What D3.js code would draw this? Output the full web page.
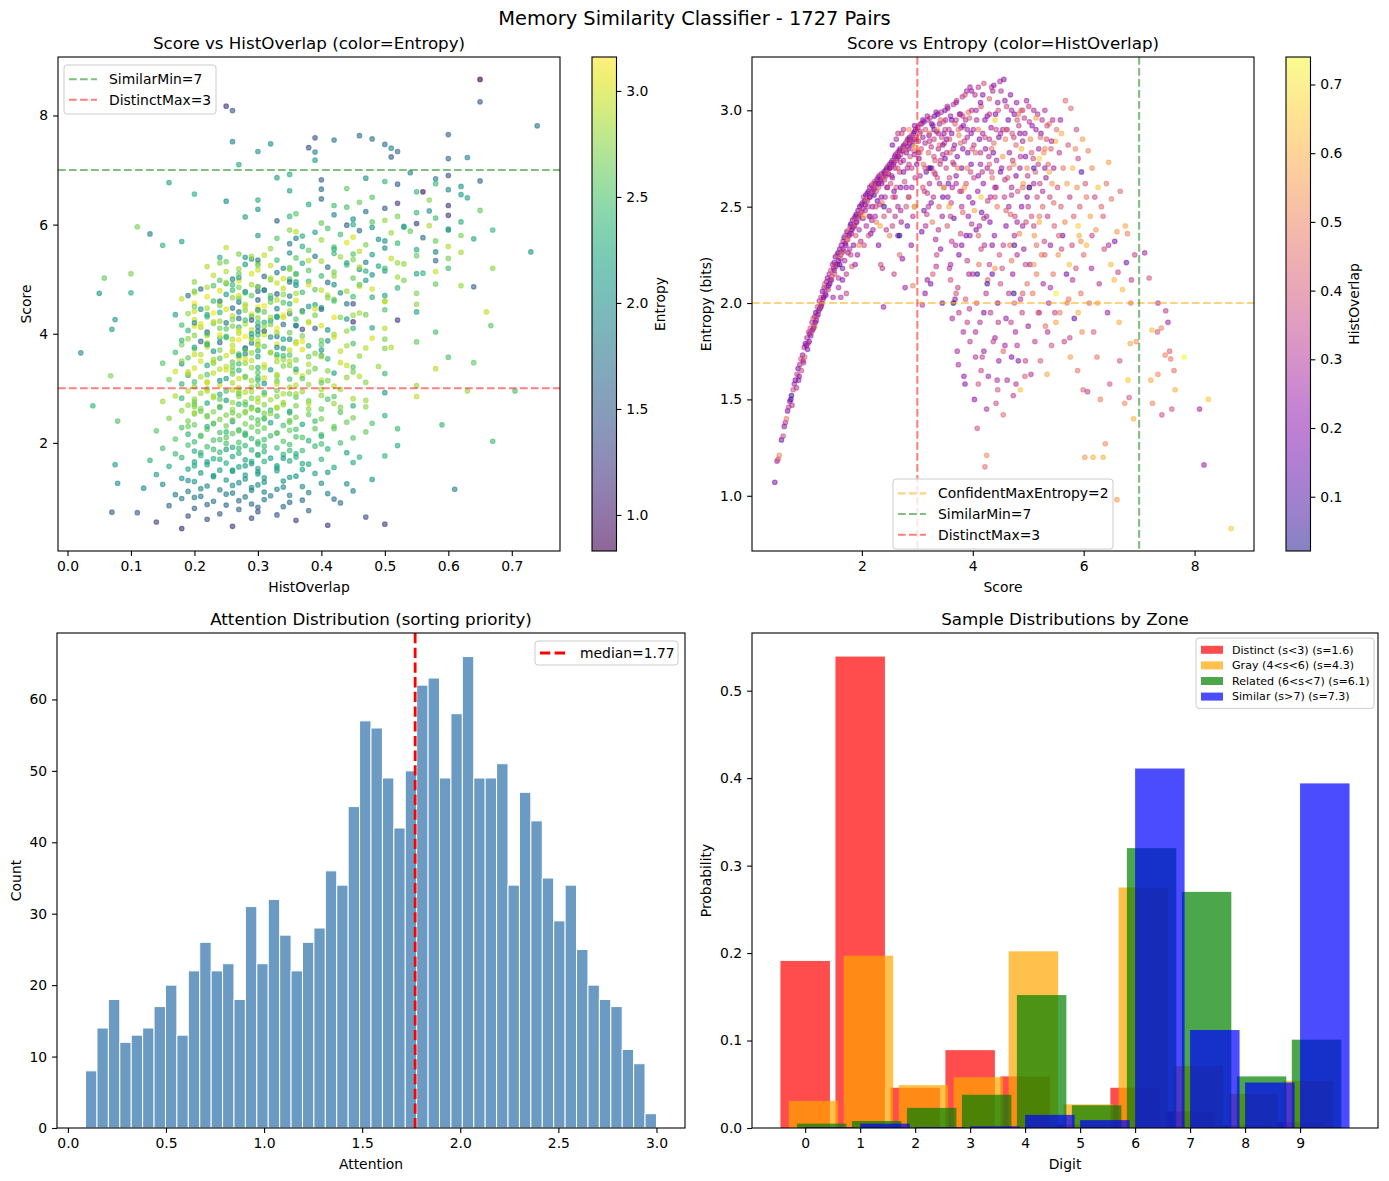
<!DOCTYPE html>
<html>
<head>
<meta charset="utf-8">
<script src="https://cdn.jsdelivr.net/npm/d3@7"></script>
<style>
body { margin: 0; background: #fff; }
text { font-family: "DejaVu Sans", sans-serif; fill: #000; }
</style>
</head>
<body>
<div id="chart"></div>
<script>
// --> DATA
// each pair: [score, histOverlap, entropy]
var pairs = [
  [0.43,.18,1.07],[0.47,.26,1.18],[0.49,.41,1.19],[0.51,.5,1.21],[0.55,.14,1.29],[0.58,.36,1.31],[0.6,.22,1.36],[0.62,.29,1.38],
  [0.64,.47,1.4],[0.66,.19,1.44],[0.68,.33,1.46],[0.7,.24,1.49],[0.72,.11,1.5],[0.73,.07,1.52],[0.74,.3,1.47],[0.76,.38,1.55],
  [0.78,.27,1.58],[0.8,.2,1.6],[0.83,.34,1.63],[0.85,.16,1.66],[0.86,.25,1.6],[0.88,.29,1.68],[0.9,.43,1.71],[0.93,.23,1.73],
  [0.95,.37,1.69],[0.96,.31,1.77],[0.98,.18,1.79],
  [1.01,.28,1.82],[1.02,.21,1.76],[1.04,.35,1.85],[1.05,.17,1.8],[1.07,.41,1.87],[1.08,.26,1.83],[1.1,.31,1.9],[1.11,.19,1.86],
  [1.12,.45,1.92],[1.14,.24,1.88],[1.15,.33,1.93],[1.17,.12,1.95],[1.18,.29,1.91],[1.2,.37,1.98],[1.21,.22,1.94],[1.23,.3,2.01],
  [1.24,.15,1.97],[1.26,.4,2.03],[1.27,.27,1.99],[1.29,.2,2.06],[1.3,.34,2.02],[1.32,.25,2.08],[1.33,.48,2.1],[1.35,.18,2.04],
  [1.36,.31,2.11],[1.38,.23,2.13],[1.39,.36,2.07],[1.41,.28,2.15],[1.42,.14,2.1],[1.44,.39,2.17],[1.45,.21,2.12],[1.47,.3,2.2],
  [1.48,.26,2.03],[1.49,.33,2.18],
  [1.5,.24,2.21],[1.51,.37,2.15],[1.52,.19,2.24],[1.53,.3,2.19],[1.55,.42,2.25],[1.56,.27,2.2],[1.57,.16,2.26],[1.58,.33,2.13],
  [1.6,.22,2.28],[1.61,.38,2.23],[1.62,.29,2.03],[1.63,.25,2.3],[1.64,.45,2.26],[1.65,.2,2.18],[1.66,.31,2.32],[1.67,.35,2.27],
  [1.68,.13,2.34],[1.69,.28,2.22],[1.7,.4,2.35],[1.71,.23,2.3],[1.72,.32,2.15],[1.73,.18,2.37],[1.74,.36,2.33],[1.75,.26,2.26],
  [1.76,.5,2.38],[1.77,.21,2.35],[1.78,.3,2.28],[1.79,.34,2.4],[1.8,.17,2.41],[1.81,.27,2.36],[1.82,.44,2.19],[1.83,.24,2.43],
  [1.84,.31,2.39],[1.85,.2,2.3],[1.86,.37,2.44],[1.87,.29,2.4],[1.88,.23,2.45],[1.89,.41,2.35],[1.9,.15,2.46],[1.91,.33,2.42],
  [1.92,.26,2.25],[1.93,.22,2.48],[1.94,.39,2.44],[1.95,.28,2.38],[1.96,.19,2.5],[1.97,.35,2.46],[1.98,.3,2.32],[1.99,.25,2.51],
  [2.0,.43,2.47],
  [2.01,.27,2.52],[2.02,.2,2.44],[2.03,.34,2.55],[2.04,.38,2.3],[2.05,.23,2.53],[2.06,.31,2.48],[2.07,.17,2.56],[2.08,.29,2.4],
  [2.09,.45,2.54],[2.1,.25,2.57],[2.11,.36,2.5],[2.12,.21,2.58],[2.13,.32,2.45],[2.14,.28,2.6],[2.15,.4,2.55],[2.16,.19,2.36],
  [2.17,.26,2.61],[2.18,.33,2.57],[2.19,.24,2.5],[2.2,.47,2.62],[2.21,.3,2.6],[2.22,.14,2.56],[2.23,.35,2.63],[2.24,.27,2.45],
  [2.25,.22,2.62],[2.26,.39,2.58],[2.27,.31,2.64],[2.28,.18,2.53],[2.29,.29,2.65],[2.3,.42,2.6],[2.31,.25,2.66],[2.32,.34,2.51],
  [2.33,.2,2.64],[2.34,.37,2.2],[2.35,.28,2.67],[2.36,.23,2.62],[2.37,.32,2.18],[2.38,.44,2.66],[2.39,.26,1.98],[2.4,.19,2.68],
  [2.41,.35,2.64],[2.42,.3,2.55],[2.43,.24,2.69],[2.44,.4,2.66],[2.45,.16,2.7],[2.46,.29,2.6],[2.47,.36,2.71],[2.48,.22,2.67],
  [2.49,.33,2.48],[2.5,.27,2.72],[2.26,.52,2.42],[2.12,.4,2.35],[2.44,.31,2.38],[2.3,.22,2.3],[2.18,.28,2.43],[2.36,.48,2.52],
  [2.51,.25,2.7],[2.52,.38,2.62],[2.53,.2,2.73],[2.54,.31,2.66],[2.55,.28,2.74],[2.56,.43,2.55],[2.57,.23,2.72],[2.58,.35,2.15],
  [2.59,.18,2.76],[2.6,.3,2.7],[2.61,.26,2.77],[2.62,.4,2.6],[2.63,.21,2.75],[2.64,.33,2.78],[2.65,.29,2.5],[2.66,.47,2.76],
  [2.67,.24,2.79],[2.68,.36,2.68],[2.69,.19,2.8],[2.7,.31,2.73],[2.71,.27,2.42],[2.72,.42,2.79],[2.73,.22,2.23],[2.74,.34,2.81],
  [2.75,.28,2.74],[2.76,.15,2.82],[2.77,.38,2.63],[2.78,.25,2.08],[2.79,.32,2.83],[2.8,.2,2.78],[2.81,.45,2.84],[2.82,.29,2.7],
  [2.83,.23,2.85],[2.84,.36,2.55],[2.85,.27,2.8],[2.86,.17,2.86],[2.87,.4,2.76],[2.88,.31,2.85],[2.89,.24,2.3],[2.9,.34,2.87],
  [2.91,.21,2.82],[2.92,.5,2.09],[2.93,.28,2.88],[2.94,.37,2.79],[2.95,.19,2.89],[2.96,.33,2.65],[2.97,.26,2.9],[2.98,.43,2.84],
  [2.99,.22,2.72],[2.6,.32,2.45],[2.7,.2,2.6],[2.8,.41,2.5],[2.9,.27,2.6],[2.55,.35,2.4],[2.65,.24,2.35],[2.75,.3,2.9],
  [2.85,.55,2.9],[2.95,.25,2.5],[2.62,.29,2.85],[2.72,.38,2.88],[2.82,.18,2.4],[2.92,.31,2.45],[2.68,.45,2.25],[2.58,.21,2.58],
  [3.01,.27,2.91],[3.02,.35,2.84],[3.03,.2,2.75],[3.04,.42,2.88],[3.05,.3,2.66],[3.06,.24,2.93],[3.07,.38,2.8],[3.08,.18,2.37],
  [3.09,.31,1.99],[3.1,.26,2.86],[3.11,.47,2.72],[3.12,.22,2.94],[3.13,.33,2.58],[3.14,.29,2.83],[3.15,.4,2.9],[3.16,.16,2.68],
  [3.17,.35,2.46],[3.18,.25,2.12],[3.19,.31,2.95],[3.2,.44,2.78],[3.21,.21,2.87],[3.22,.28,2.62],[3.23,.37,2.96],[3.24,.19,2.1],
  [3.25,.33,2.81],[3.26,.26,2.7],[3.27,.5,2.42],[3.28,.23,2.92],[3.29,.3,2.55],[3.3,.36,2.85],[3.31,.17,2.97],[3.32,.41,2.74],
  [3.33,.27,2.33],[3.34,.32,2.19],[3.35,.24,2.89],[3.36,.39,2.65],[3.37,.2,2.98],[3.38,.29,2.8],[3.39,.45,2.5],[3.4,.25,2.93],
  [3.41,.34,2.72],[3.42,.22,2.28],[3.43,.31,2.99],[3.44,.38,2.86],[3.45,.18,2.0],[3.46,.28,2.77],[3.47,.43,2.94],[3.48,.26,2.6],
  [3.49,.33,2.83],[3.5,.21,3.0],[3.05,.55,2.78],[3.15,.3,2.4],[3.25,.22,2.52],[3.35,.36,2.25],[3.45,.27,2.45],[3.1,.4,2.6],
  [3.2,.28,2.7],[3.3,.19,2.9],[3.4,.49,2.82],[3.14,.24,2.05],[3.28,.42,2.15],[3.38,.3,2.38],[3.48,.23,2.88],[3.08,.33,2.93],
  [3.18,.37,2.57],[3.32,.26,2.67],[3.42,.35,2.74],[3.22,.46,2.88],[3.12,.2,2.48],[3.36,.58,2.9],[3.46,.15,2.55],
  [3.51,.29,2.95],[3.52,.36,2.7],[3.53,.23,2.85],[3.54,.41,2.4],[3.55,.27,3.01],[3.56,.19,2.62],[3.57,.33,2.9],[3.58,.3,2.18],
  [3.59,.46,2.78],[3.6,.25,2.97],[3.61,.35,2.52],[3.62,.21,2.88],[3.63,.28,1.92],[3.64,.39,2.73],[3.65,.32,3.03],[3.66,.17,2.44],
  [3.67,.26,2.82],[3.68,.43,2.93],[3.69,.3,2.3],[3.7,.24,2.66],[3.71,.37,3.05],[3.72,.2,2.76],[3.73,.34,2.08],[3.74,.28,1.68],
  [3.75,.51,2.87],[3.76,.22,2.98],[3.77,.31,2.58],[3.78,.38,2.36],[3.79,.26,2.91],[3.8,.18,2.7],[3.81,.33,3.07],[3.82,.45,2.47],
  [3.83,.29,1.85],[3.84,.24,1.62],[3.85,.36,2.84],[3.86,.21,1.58],[3.87,.3,2.95],[3.88,.4,2.62],[3.89,.27,3.1],[3.9,.34,2.22],
  [3.91,.19,2.78],[3.92,.48,2.99],[3.93,.25,2.55],[3.94,.32,1.97],[3.95,.28,3.12],[3.96,.37,2.68],[3.97,.22,2.88],[3.98,.3,2.41],
  [3.99,.42,2.8],[3.55,.24,2.55],[3.6,.4,2.12],[3.65,.29,2.8],[3.7,.35,2.95],[3.75,.2,2.25],[3.8,.3,2.5],[3.85,.55,2.6],
  [3.9,.26,2.9],[3.95,.33,1.8],[3.58,.38,2.65],[3.68,.23,2.02],[3.78,.44,2.83],[3.88,.18,2.35],[3.98,.31,3.0],[3.53,.34,2.78],
  [3.63,.27,2.6],[3.73,.5,2.7],[3.83,.22,2.92],[3.93,.29,2.15],[3.62,.33,2.32],[3.72,.28,1.75],[3.82,.36,2.97],[3.92,.24,2.45],
  [3.57,.6,2.5],[3.87,.41,2.02],[3.97,.2,2.72],
  [4.01,.27,2.9],[4.02,.35,2.65],[4.03,.22,1.5],[4.04,.31,3.08],[4.05,.44,2.78],[4.06,.19,2.38],[4.07,.29,2.95],[4.08,.37,1.35],
  [4.09,.25,2.58],[4.1,.33,3.12],[4.11,.48,2.2],[4.12,.21,2.85],[4.13,.3,1.9],[4.14,.26,2.72],[4.15,.4,3.02],[4.16,.18,2.47],
  [4.17,.34,1.72],[4.18,.28,2.88],[4.19,.23,2.62],[4.2,.38,3.14],[4.21,.31,2.3],[4.22,.45,1.15],[4.23,.24,2.8],[4.24,.32,2.05],
  [4.25,.52,1.21],[4.26,.2,2.97],[4.27,.36,2.53],[4.28,.27,1.62],[4.29,.3,2.76],[4.3,.42,3.06],[4.31,.22,2.42],[4.32,.33,1.95],
  [4.33,.26,2.91],[4.34,.39,2.68],[4.35,.17,2.15],[4.36,.29,3.1],[4.37,.35,1.8],[4.38,.46,2.83],[4.39,.24,2.35],[4.4,.31,2.6],
  [4.41,.2,2.98],[4.42,.37,1.48],[4.43,.28,2.74],[4.44,.5,2.5],[4.45,.25,3.04],[4.46,.33,1.9],[4.47,.22,2.86],[4.48,.4,2.25],
  [4.49,.3,3.15],[4.03,.58,2.48],[4.07,.41,2.0],[4.12,.27,2.4],[4.17,.32,2.68],[4.22,.23,2.95],[4.27,.44,2.12],[4.32,.29,2.55],
  [4.37,.19,2.78],[4.42,.35,2.9],[4.47,.26,1.7],[4.05,.3,1.85],[4.15,.36,2.28],[4.25,.28,2.45],[4.35,.47,2.65],[4.45,.21,2.0],
  [4.1,.39,1.58],[4.2,.25,1.75],[4.3,.32,2.85],[4.4,.55,2.18],[4.14,.2,3.04],[4.34,.34,3.12],[4.44,.3,1.6],
  [4.51,.31,3.1],[4.52,.24,2.7],[4.53,.39,2.18],[4.54,.28,2.9],[4.55,.45,1.42],[4.56,.2,3.16],[4.57,.34,2.55],[4.58,.27,1.78],
  [4.59,.5,2.85],[4.6,.23,2.4],[4.61,.36,3.02],[4.62,.3,1.6],[4.63,.42,2.65],[4.64,.18,2.95],[4.65,.32,2.05],[4.66,.26,2.78],
  [4.67,.48,2.3],[4.68,.22,3.08],[4.69,.35,1.9],[4.7,.29,2.6],[4.71,.41,2.88],[4.72,.25,2.15],[4.73,.33,1.52],[4.74,.55,2.72],
  [4.75,.2,2.98],[4.76,.37,2.45],[4.77,.28,1.85],[4.78,.44,2.82],[4.79,.24,3.04],[4.8,.31,2.25],[4.81,.39,2.58],[4.82,.21,1.7],
  [4.83,.34,2.92],[4.84,.52,2.36],[4.85,.27,2.7],[4.86,.3,2.02],[4.87,.46,3.0],[4.88,.23,2.5],[4.89,.36,1.95],[4.9,.29,2.84],
  [4.91,.58,2.62],[4.92,.25,2.28],[4.93,.33,2.96],[4.94,.41,1.62],[4.95,.2,2.76],[4.96,.38,2.42],[4.97,.27,3.05],[4.98,.47,2.1],
  [4.99,.32,2.66],[4.55,.35,2.3],[4.65,.27,2.5],[4.75,.43,2.0],[4.85,.22,2.88],[4.95,.36,2.2],[4.6,.5,2.9],[4.7,.19,1.72],
  [4.8,.4,2.95],[4.9,.26,2.4],[4.58,.32,2.64],[4.68,.45,2.46],[4.78,.3,1.58],[4.88,.62,2.8],[4.98,.24,2.55],[4.72,.34,2.74],
  [5.01,.34,3.02],[5.02,.45,2.6],[5.03,.27,2.2],[5.04,.52,2.85],[5.05,.31,1.63],[5.06,.4,2.45],[5.07,.23,2.92],[5.08,.48,2.05],
  [5.09,.36,2.75],[5.1,.29,3.0],[5.11,.56,2.35],[5.12,.33,1.8],[5.13,.42,2.68],[5.14,.25,2.9],[5.15,.5,2.15],[5.16,.38,2.55],
  [5.17,.3,2.98],[5.18,.46,1.95],[5.19,.27,2.8],[5.2,.6,2.42],[5.21,.35,2.62],[5.22,.41,1.7],[5.23,.22,2.88],[5.24,.49,2.25],
  [5.25,.32,2.95],[5.26,.44,2.5],[5.27,.28,2.1],[5.28,.53,2.78],[5.29,.37,2.32],[5.3,.3,3.0],[5.31,.47,1.88],[5.32,.25,2.65],
  [5.33,.4,2.85],[5.34,.58,1.63],[5.35,.33,2.45],[5.36,.45,2.72],[5.37,.29,2.0],[5.38,.51,2.93],[5.39,.36,2.55],[5.4,.24,2.3],
  [5.41,.43,2.8],[5.42,.39,1.78],[5.43,.55,2.62],[5.44,.31,2.95],[5.45,.48,2.15],[5.46,.27,2.7],[5.47,.42,2.4],[5.48,.35,1.95],
  [5.49,.62,2.84],
  [5.51,.46,2.9],[5.53,.38,2.6],[5.54,.55,2.25],[5.56,.32,2.78],[5.57,.5,1.95],[5.59,.42,2.5],[5.6,.6,2.88],[5.62,.15,2.35],
  [5.63,.47,2.7],[5.65,.35,1.8],[5.66,.52,2.42],[5.67,.44,3.05],[5.69,.18,2.15],[5.7,.58,2.62],[5.72,.4,2.82],[5.73,.49,2.02],
  [5.75,.33,2.55],[5.76,.56,1.72],[5.77,.45,3.01],[5.79,.37,2.3],[5.8,.62,2.7],[5.82,.43,2.45],[5.83,.13,1.92],[5.85,.51,2.8],
  [5.86,.39,2.18],[5.88,.54,2.6],[5.89,.46,1.65],[5.9,.35,2.75],[5.92,.6,2.35],[5.93,.41,2.5],[5.95,.48,2.05],[5.96,.11,2.68],
  [5.98,.57,2.85],[5.99,.44,1.55],[5.58,.25,2.95],[5.74,.64,2.2],[5.87,.36,2.9],[5.97,.53,1.85],
  [6.02,.55,1.2],[6.03,.4,2.62],[6.05,.62,2.3],[6.07,.33,1.54],[6.08,.5,2.79],[6.1,.45,2.0],[6.12,.58,2.45],[6.14,.28,2.18],
  [6.15,.52,2.7],[6.17,.6,1.2],[6.18,.42,1.85],[6.2,.36,2.55],[6.22,.55,2.38],[6.24,.47,1.72],[6.26,.65,2.6],[6.28,.3,2.1],
  [6.3,.5,1.5],[6.32,.44,2.5],[6.35,.6,1.2],[6.37,.38,2.28],[6.39,.52,1.27],[6.41,.46,2.62],[6.43,.25,1.95],[6.45,.57,2.73],
  [6.47,.4,1.58],[6.49,.63,2.2],
  [6.5,.48,2.54],[6.56,.2,2.32],[6.6,.55,2.37],[6.62,.35,2.16],[6.64,.6,1.9],[6.66,.44,2.58],[6.7,.62,2.07],[6.74,.52,1.48],
  [6.77,.16,2.21],[6.79,.5,2.36],[6.8,.65,1.6],[6.82,.4,1.51],[6.84,.58,1.79],[6.86,.33,2.12],[6.9,.6,1.4],[6.6,.56,0.98],
  [6.95,.54,1.8],
  [7.1,.27,2.26],[7.18,.39,2.13],[7.21,.6,1.6],[7.23,.63,1.86],[7.24,.51,1.48],[7.33,.39,1.85],[7.34,.3,2.0],[7.34,.52,1.63],
  [7.4,.51,1.87],[7.41,.38,1.42],[7.47,.5,1.73],[7.48,.32,1.96],[7.52,.26,1.9],[7.55,.42,1.75],[7.57,.48,1.71],[7.59,.39,1.45],
  [7.63,.46,1.65],[7.65,.6,1.55],[7.81,.74,1.72],[8.09,.26,1.45],[8.17,.25,1.16],[8.25,.65,1.5],[8.66,.65,0.83],
  [3.65,.021,2.0],[4.74,.05,2.05],[5.02,.058,2.6],[2.68,.04,2.35],[3.23,.068,2.7],[2.4,.079,2.5],[1.6,.075,2.2],[1.26,.079,1.98],
  [4.26,.075,2.1],[4.08,.07,2.15],[4.75,.1,2.3],[5.1,.1,2.7],[2.95,.705,2.5],[2.03,.67,2.45],[4.15,.667,2.55],[5.2,.67,2.75],
  [4.4,.66,2.95],[5.5,.73,2.05],[5.9,.67,2.4],[3.47,.64,2.6],[1.15,.61,1.88],[2.33,.59,2.4],[2.95,.63,2.81],[4.86,.64,1.55],
  [0.82,.3,1.56],[0.87,.22,1.62],[0.91,.35,1.65],[0.94,.27,1.7],[0.97,.42,1.72],[1.0,.2,1.78],[1.03,.32,1.79],[1.06,.25,1.84],
  [1.09,.38,1.85],[1.13,.29,1.87],[1.16,.21,1.9],[1.19,.34,1.93],[1.22,.26,1.96],[1.25,.44,1.98],[1.28,.31,2.0],[1.31,.19,2.03],
  [1.34,.28,2.05],[1.37,.35,2.08],[1.4,.23,2.09],[1.43,.3,2.12],[1.46,.41,2.14],[1.5,.26,2.17],[1.54,.33,2.2],[1.58,.2,2.22],
  [1.62,.37,2.25],[1.66,.29,2.28],[1.7,.24,2.31],[1.74,.46,2.33],[1.78,.3,2.36],[1.82,.21,2.38],[1.86,.35,2.4],[1.9,.27,2.42],
  [1.94,.31,2.45],[1.98,.4,2.47],[1.58,.28,2.08],[1.72,.34,2.05],[1.88,.25,2.2],[1.95,.52,2.3],[1.8,.36,2.25],[1.65,.22,2.12],
  [2.02,.3,2.49],[2.06,.24,2.51],[2.1,.37,2.53],[2.14,.21,2.55],[2.18,.33,2.58],[2.22,.27,2.59],[2.26,.42,2.61],[2.3,.19,2.62],
  [2.34,.3,2.63],[2.38,.35,2.65],[2.42,.26,2.67],[2.46,.45,2.68],[2.5,.22,2.7],[2.54,.32,2.71],[2.58,.28,2.73],[2.62,.38,2.74],
  [2.66,.2,2.76],[2.7,.34,2.77],[2.74,.26,2.79],[2.78,.47,2.8],[2.82,.3,2.81],[2.86,.23,2.83],[2.9,.36,2.84],[2.94,.29,2.85],
  [2.98,.4,2.86],[2.15,.28,2.45],[2.25,.36,2.5],[2.35,.23,2.55],[2.45,.31,2.6],[2.55,.26,2.65],[2.65,.43,2.7],[2.75,.2,2.68],
  [2.85,.33,2.72],[2.95,.27,2.77],[2.4,.39,2.45],[2.6,.3,2.55],[2.8,.24,2.6],[2.5,.5,2.35],[2.7,.28,2.48],[2.9,.35,2.7],
  [2.2,.25,2.38],[2.55,.2,2.82],[2.85,.42,2.55],[2.65,.33,2.88],[2.95,.22,2.92],
  [3.02,.29,2.78],[3.06,.36,2.89],[3.1,.22,2.95],[3.14,.41,2.7],[3.18,.27,2.97],[3.22,.33,2.84],[3.26,.19,2.93],[3.3,.38,2.76],
  [3.34,.25,2.99],[3.38,.31,2.88],[3.42,.44,2.95],[3.46,.23,2.82],[3.5,.35,2.9],[3.54,.28,3.02],[3.58,.4,2.85],[3.62,.2,2.95],
  [3.66,.32,2.72],[3.7,.26,3.04],[3.74,.47,2.9],[3.78,.3,2.98],[3.82,.22,2.8],[3.86,.37,3.08],[3.9,.29,2.86],[3.94,.42,2.96],
  [3.98,.24,3.1],[4.02,.33,2.82],[4.06,.27,3.0],[4.1,.5,2.9],[4.14,.31,2.78],[4.18,.21,3.08],[4.22,.38,2.86],[4.26,.26,2.7],
  [4.3,.34,2.98],[4.34,.45,2.8],[4.38,.23,3.13],[4.42,.3,2.6],[4.46,.39,3.0],[4.5,.28,2.88],[4.54,.55,2.76],[4.58,.24,3.05],
  [4.62,.33,2.9],[4.66,.41,2.7],[4.7,.27,3.0],[4.74,.36,2.86],[4.78,.2,2.66],[4.82,.48,2.98],[4.86,.3,2.76],[4.9,.38,3.0],
  [4.94,.25,2.88],[4.98,.53,2.7],[5.02,.32,2.94],[5.06,.42,2.78],[5.1,.27,2.62],[5.14,.58,2.96],[5.18,.35,2.72],[5.22,.46,2.86],
  [5.26,.3,2.58],[5.3,.52,2.8],[5.34,.38,2.92],[5.38,.6,2.68],[5.42,.29,2.84],[5.46,.45,2.52],[3.2,.3,2.5],[3.4,.26,2.62],
  [3.6,.34,2.45],[3.8,.4,2.58],[4.0,.22,2.52],[4.2,.3,2.44],[4.4,.37,2.55],[4.6,.42,2.48],[4.8,.26,2.42],[5.0,.35,2.5],
  [5.2,.5,2.45],[3.3,.45,2.68],[3.5,.18,2.75],[3.7,.28,2.62],[3.9,.5,2.7],[4.1,.24,2.66],[4.3,.43,2.72],[4.5,.2,2.68],
  [4.7,.32,2.56],[4.9,.46,2.6],[5.1,.36,2.4],[5.3,.24,2.7],
  [3.6,.27,2.2],[3.7,.4,2.05],[3.8,.22,2.3],[3.9,.35,1.9],[4.0,.29,2.15],[4.1,.45,2.35],[4.2,.2,1.95],[4.3,.33,2.2],
  [4.4,.27,1.82],[4.5,.38,2.1],[4.6,.24,1.92],[4.7,.5,2.22],[4.8,.31,1.78],[4.9,.42,2.05],[5.0,.26,1.88],[5.1,.55,2.2],
  [5.2,.34,1.95],[5.3,.44,2.25],[5.4,.28,2.08],[5.5,.58,1.9],[5.6,.37,2.28],[5.7,.5,2.0],[5.8,.3,2.12],[5.9,.6,1.95],
  [6.0,.45,2.25],[3.75,.33,1.95],[3.95,.25,2.35],[4.15,.36,1.65],[4.35,.22,2.3],[4.55,.44,1.75],[4.75,.28,2.35],[4.95,.35,1.7],
  [5.15,.47,2.3],[5.35,.3,1.85],[5.55,.42,2.35],[5.75,.36,1.82],[5.95,.53,2.32],[4.05,.31,1.72],[4.45,.4,1.55],[4.25,.29,1.45],
  [6.05,.48,2.55],[6.15,.35,2.35],[6.25,.57,2.0],[6.35,.42,2.45],[6.45,.3,2.3],[6.55,.62,2.12],[6.65,.4,1.7],[6.75,.58,2.4],
  [6.85,.47,2.0],[6.92,.35,2.25]
];

// thresholds
var similarMin = 7, distinctMax = 3, confidentMaxEntropy = 2;

// attention histogram: 50 equal bins between attnMin and attnMax
var attnMin = 0.09, attnMax = 3.0;
var attnCounts = [8,14,18,12,13,14,17,20,13,22,26,22,23,18,31,23,32,27,22,26,
                  28,36,34,45,57,56,49,42,50,62,63,49,58,66,49,49,51,34,47,43,
                  35,29,34,25,20,18,17,11,9,2];
var attnMedian = 1.77;

// sample digit distributions by zone
var digits = [0,1,2,3,4,5,6,7,8,9];
var zoneNames = ["Distinct (s<3) (s=1.6)", "Gray (4<s<6) (s=4.3)", "Related (6<s<7) (s=6.1)", "Similar (s>7) (s=7.3)"];
var zoneColors = ["red", "orange", "green", "blue"];
var distinctProb = [0.191,0.539,0.046,0.089,0.059,0.004,0.046,0.019,0.003,0.007];
var grayProb     = [0.031,0.197,0.049,0.058,0.202,0.027,0.275,0.071,0.039,0.054];
var relatedProb  = [0.005,0.008,0.023,0.038,0.152,0.026,0.320,0.270,0.059,0.101];
var similarProb  = [0.001,0.005,0.001,0.002,0.015,0.009,0.411,0.112,0.052,0.394];
var zoneProbs = [distinctProb, grayProb, relatedProb, similarProb];

// --> SVG
var W = 1389, H = 1181;
var svg = d3.select("#chart").append("svg")
    .attr("width", W)
    .attr("height", H);

var FS = 13.9; // 10pt
var DOT_R = 2.3;
var boxTL = { x0: 58, x1: 560, y0: 57, y1: 551 };
var boxTR = { x0: 752, x1: 1254, y0: 57, y1: 551 };
var boxBL = { x0: 57, x1: 685, y0: 633, y1: 1128 };
var boxBR = { x0: 752, x1: 1378, y0: 633, y1: 1128 };

function padExtent(ext, frac) {
    var d = (ext[1] - ext[0]) * frac;
    return [ext[0] - d, ext[1] + d];
}

function clipFor(id, box) {
    svg.append("clipPath").attr("id", id).append("rect")
        .attr("x", box.x0).attr("y", box.y0)
        .attr("width", box.x1 - box.x0).attr("height", box.y1 - box.y0);
    return svg.append("g").attr("clip-path", "url(#" + id + ")");
}

function styleAxis(g) {
    g.select(".domain").remove();
    g.attr("font-family", "DejaVu Sans").attr("font-size", FS);
    g.selectAll("line").attr("stroke", "#000").attr("stroke-width", 1.1);
}

function addAxes(box, x, y, xTicks, yTicks, xFmt, yFmt, title, xLabel, yLabel, yLabelX) {
    var gx = svg.append("g").attr("transform", "translate(0," + box.y1 + ")")
        .call(d3.axisBottom(x).tickValues(xTicks).tickFormat(d3.format(xFmt)).tickSize(4.9).tickPadding(4.9));
    var gy = svg.append("g").attr("transform", "translate(" + box.x0 + ",0)")
        .call(d3.axisLeft(y).tickValues(yTicks).tickFormat(d3.format(yFmt)).tickSize(4.9).tickPadding(4.9));
    styleAxis(gx);
    styleAxis(gy);

    svg.append("rect")
        .attr("x", box.x0).attr("y", box.y0)
        .attr("width", box.x1 - box.x0).attr("height", box.y1 - box.y0)
        .attr("fill", "none").attr("stroke", "#000").attr("stroke-width", 1.1);

    svg.append("text")
        .attr("x", (box.x0 + box.x1) / 2).attr("y", box.y0 - 8)
        .attr("text-anchor", "middle").attr("font-size", 16.7)
        .text(title);
    svg.append("text")
        .attr("x", (box.x0 + box.x1) / 2).attr("y", box.y1 + 41)
        .attr("text-anchor", "middle").attr("font-size", FS)
        .text(xLabel);
    svg.append("text")
        .attr("transform", "translate(" + yLabelX + "," + (box.y0 + box.y1) / 2 + ") rotate(-90)")
        .attr("text-anchor", "middle").attr("font-size", FS)
        .text(yLabel);
}

function addColorbar(x0, box, scale, interp, ticks, label, alpha, id) {
    var w = 24.5;
    var grad = svg.append("defs").append("linearGradient")
        .attr("id", id).attr("x1", 0).attr("y1", 1).attr("x2", 0).attr("y2", 0);
    d3.range(0, 1.0001, 0.05).forEach(function(t) {
        grad.append("stop").attr("offset", t).attr("stop-color", interp(t));
    });
    svg.append("rect")
        .attr("x", x0).attr("y", box.y0).attr("width", w).attr("height", box.y1 - box.y0)
        .attr("fill", "url(#" + id + ")").attr("fill-opacity", alpha);
    svg.append("rect")
        .attr("x", x0).attr("y", box.y0).attr("width", w).attr("height", box.y1 - box.y0)
        .attr("fill", "none").attr("stroke", "#000").attr("stroke-width", 1.1);
    var cy = d3.scaleLinear().domain(scale.domain()).range([box.y1, box.y0]);
    var g = svg.append("g").attr("transform", "translate(" + (x0 + w) + ",0)")
        .call(d3.axisRight(cy).tickValues(ticks).tickFormat(d3.format(".1f")).tickSize(4.9).tickPadding(4.9));
    styleAxis(g);
    svg.append("text")
        .attr("transform", "translate(" + (x0 + w + 48) + "," + (box.y0 + box.y1) / 2 + ") rotate(-90)")
        .attr("text-anchor", "middle").attr("font-size", FS)
        .text(label);
}

function addLegend(x, y, w, items, fs, rowH) {
    var h = items.length * rowH + 8;
    svg.append("rect")
        .attr("x", x).attr("y", y).attr("width", w).attr("height", h)
        .attr("rx", 3).attr("fill", "#fff").attr("fill-opacity", 0.8)
        .attr("stroke", "#cccccc").attr("stroke-width", 1);
    var legend = svg.selectAll(null)
        .data(items)
        .enter()
        .append("g")
        .attr("transform", function(d, i) {
            return "translate(" + (x + 5) + "," + (y + 4 + rowH * (i + 0.5)) + ")";
        });
    legend.each(function(d) {
        var g = d3.select(this);
        if (d.type === "patch") {
            g.append("rect").attr("x", 0).attr("y", -4).attr("width", 22).attr("height", 8)
                .attr("fill", d.color).attr("fill-opacity", d.alpha);
            g.append("text").attr("x", 31).attr("dy", "0.35em").attr("font-size", fs).text(d.label);
        } else {
            g.append("line").attr("x1", 0).attr("x2", 28).attr("y1", 0).attr("y2", 0)
                .attr("stroke", d.color).attr("stroke-opacity", d.alpha)
                .attr("stroke-width", d.width).attr("stroke-dasharray", d.dash);
            g.append("text").attr("x", 40).attr("dy", "0.35em").attr("font-size", fs).text(d.label);
        }
    });
}

var dashThin = "7.7,3.3";
var dashThick = "10.3,4.4";

// --> SUPTITLE
svg.append("text")
    .attr("x", W / 2).attr("y", 25)
    .attr("text-anchor", "middle").attr("font-size", 19.4)
    .text("Memory Similarity Classifier - 1727 Pairs");

// --> TOP LEFT: Score vs HistOverlap
var xTL = d3.scaleLinear().domain(padExtent(d3.extent(pairs, function(d) { return d[1]; }), 0.05)).range([boxTL.x0, boxTL.x1]);
var yTL = d3.scaleLinear().domain(padExtent(d3.extent(pairs, function(d) { return d[0]; }), 0.05)).range([boxTL.y1, boxTL.y0]);
var entColor = d3.scaleSequential(d3.interpolateViridis).domain(d3.extent(pairs, function(d) { return d[2]; }));

var gTL = clipFor("clipTL", boxTL);
gTL.selectAll("circle")
    .data(pairs)
    .enter().append("circle")
    .attr("cx", function(d) { return xTL(d[1]); })
    .attr("cy", function(d) { return yTL(d[0]); })
    .attr("r", DOT_R)
    .attr("fill", function(d) { return entColor(d[2]); })
    .attr("fill-opacity", 0.6)
    .attr("stroke", function(d) { return entColor(d[2]); })
    .attr("stroke-opacity", 0.6)
    .attr("stroke-width", 1.1);

[[similarMin, "green"], [distinctMax, "red"]].forEach(function(l) {
    gTL.append("line")
        .attr("x1", boxTL.x0).attr("x2", boxTL.x1)
        .attr("y1", yTL(l[0])).attr("y2", yTL(l[0]))
        .attr("stroke", l[1]).attr("stroke-opacity", 0.5)
        .attr("stroke-width", 2.1).attr("stroke-dasharray", dashThin);
});

addAxes(boxTL, xTL, yTL, d3.range(0, 0.71, 0.1), [2, 4, 6, 8], ".1f", "d",
    "Score vs HistOverlap (color=Entropy)", "HistOverlap", "Score", 31);
addColorbar(592, boxTL, entColor, d3.interpolateViridis, [1.0, 1.5, 2.0, 2.5, 3.0], "Entropy", 0.6, "gradEnt");
addLegend(boxTL.x0 + 6, boxTL.y0 + 8, 152, [
    { label: "SimilarMin=" + similarMin, color: "green", alpha: 0.5, width: 2.1, dash: dashThin },
    { label: "DistinctMax=" + distinctMax, color: "red", alpha: 0.5, width: 2.1, dash: dashThin }
], FS, 20.5);

// --> TOP RIGHT: Score vs Entropy
var xTR = d3.scaleLinear().domain(padExtent(d3.extent(pairs, function(d) { return d[0]; }), 0.05)).range([boxTR.x0, boxTR.x1]);
var yTR = d3.scaleLinear().domain(padExtent(d3.extent(pairs, function(d) { return d[2]; }), 0.05)).range([boxTR.y1, boxTR.y0]);
var histColor = d3.scaleSequential(d3.interpolatePlasma).domain(d3.extent(pairs, function(d) { return d[1]; }));

var gTR = clipFor("clipTR", boxTR);
gTR.selectAll("circle")
    .data(pairs)
    .enter().append("circle")
    .attr("cx", function(d) { return xTR(d[0]); })
    .attr("cy", function(d) { return yTR(d[2]); })
    .attr("r", DOT_R)
    .attr("fill", function(d) { return histColor(d[1]); })
    .attr("fill-opacity", 0.5)
    .attr("stroke", function(d) { return histColor(d[1]); })
    .attr("stroke-opacity", 0.5)
    .attr("stroke-width", 1.1);

gTR.append("line")
    .attr("x1", boxTR.x0).attr("x2", boxTR.x1)
    .attr("y1", yTR(confidentMaxEntropy)).attr("y2", yTR(confidentMaxEntropy))
    .attr("stroke", "orange").attr("stroke-opacity", 0.5)
    .attr("stroke-width", 2.1).attr("stroke-dasharray", dashThin);
[[similarMin, "green"], [distinctMax, "red"]].forEach(function(l) {
    gTR.append("line")
        .attr("y1", boxTR.y0).attr("y2", boxTR.y1)
        .attr("x1", xTR(l[0])).attr("x2", xTR(l[0]))
        .attr("stroke", l[1]).attr("stroke-opacity", 0.5)
        .attr("stroke-width", 2.1).attr("stroke-dasharray", dashThin);
});

addAxes(boxTR, xTR, yTR, [2, 4, 6, 8], [1.0, 1.5, 2.0, 2.5, 3.0], "d", ".1f",
    "Score vs Entropy (color=HistOverlap)", "Score", "Entropy (bits)", 711);
addColorbar(1286, boxTR, histColor, d3.interpolatePlasma, [0.1, 0.2, 0.3, 0.4, 0.5, 0.6, 0.7], "HistOverlap", 0.5, "gradHist");
addLegend(893, 479, 220, [
    { label: "ConfidentMaxEntropy=" + confidentMaxEntropy, color: "orange", alpha: 0.5, width: 2.1, dash: dashThin },
    { label: "SimilarMin=" + similarMin, color: "green", alpha: 0.5, width: 2.1, dash: dashThin },
    { label: "DistinctMax=" + distinctMax, color: "red", alpha: 0.5, width: 2.1, dash: dashThin }
], FS, 20.7);

// --> BOTTOM LEFT: attention histogram
var binW = (attnMax - attnMin) / attnCounts.length;
var xBL = d3.scaleLinear().domain(padExtent([attnMin, attnMax], 0.05)).range([boxBL.x0, boxBL.x1]);
var yBL = d3.scaleLinear().domain([0, d3.max(attnCounts) * 1.05]).range([boxBL.y1, boxBL.y0]);

svg.append("g").selectAll("rect")
    .data(attnCounts)
    .enter().append("rect")
    .attr("x", function(d, i) { return xBL(attnMin + i * binW); })
    .attr("width", function(d, i) { return xBL(attnMin + (i + 1) * binW) - xBL(attnMin + i * binW); })
    .attr("y", function(d) { return yBL(d); })
    .attr("height", function(d) { return yBL(0) - yBL(d); })
    .attr("fill", "steelblue").attr("fill-opacity", 0.8)
    .attr("stroke", "#fff").attr("stroke-width", 1);

svg.append("line")
    .attr("x1", xBL(attnMedian)).attr("x2", xBL(attnMedian))
    .attr("y1", boxBL.y0).attr("y2", boxBL.y1)
    .attr("stroke", "red").attr("stroke-width", 2.8).attr("stroke-dasharray", dashThick);

addAxes(boxBL, xBL, yBL, d3.range(0, 3.01, 0.5), d3.range(0, 61, 10), ".1f", "d",
    "Attention Distribution (sorting priority)", "Attention", "Count", 21);
addLegend(535, 641, 143, [
    { label: "median=" + attnMedian.toFixed(2), color: "red", alpha: 1, width: 2.8, dash: dashThick }
], FS, 16);

// --> BOTTOM RIGHT: sample distributions by zone
var barW = 0.9, barShift = 0.15;
var xBR = d3.scaleLinear()
    .domain(padExtent([digits[0] - barW / 2, digits[digits.length - 1] + 3 * barShift + barW / 2], 0.05))
    .range([boxBR.x0, boxBR.x1]);
var yBR = d3.scaleLinear()
    .domain([0, d3.max(zoneProbs, function(p) { return d3.max(p); }) * 1.05])
    .range([boxBR.y1, boxBR.y0]);

zoneProbs.forEach(function(probs, zi) {
    svg.append("g").selectAll("rect")
        .data(probs)
        .enter().append("rect")
        .attr("x", function(d, i) { return xBR(digits[i] + zi * barShift - barW / 2); })
        .attr("width", xBR(barW) - xBR(0))
        .attr("y", function(d) { return yBR(d); })
        .attr("height", function(d) { return yBR(0) - yBR(d); })
        .attr("fill", zoneColors[zi]).attr("fill-opacity", 0.7);
});

addAxes(boxBR, xBR, yBR, digits, d3.range(0, 0.51, 0.1), "d", ".1f",
    "Sample Distributions by Zone", "Digit", "Probability", 711);
addLegend(1196, 638, 178, zoneNames.map(function(n, i) {
    return { type: "patch", label: n, color: zoneColors[i], alpha: 0.7 };
}), 11.1, 15.6);
</script>
</body>
</html>
